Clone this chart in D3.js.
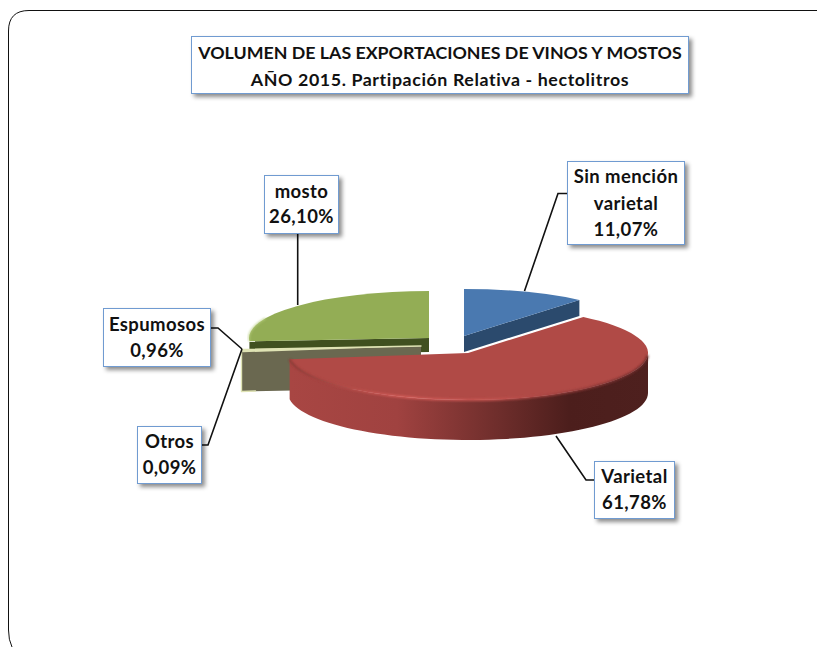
<!DOCTYPE html>
<html><head><meta charset="utf-8">
<script src="https://cdn.jsdelivr.net/npm/d3@7/dist/d3.min.js"></script>
<style>html,body{margin:0;padding:0;background:#fff;overflow:hidden}svg{display:block}</style>
</head><body><svg id="c" width="817" height="647"></svg>
<script>
const titleLines = ["VOLUMEN DE LAS EXPORTACIONES DE VINOS Y MOSTOS", "AÑO 2015. Partipación Relativa - hectolitros"];
const categories = ["Sin mención varietal", "Varietal", "Espumosos", "Otros", "mosto"];
const shares = [11.07, 61.78, 0.96, 0.09, 26.10];
const labelLines = [["Sin mención", "varietal", "11,07%"], ["Varietal", "61,78%"], ["Espumosos", "0,96%"], ["Otros", "0,09%"], ["mosto", "26,10%"]];
const topColors = ["#4a79b0", "#b04a46", "#dfe3b4", "#dfe3b4", "#93ad55"];
const sideColors = ["#2b4a6d", "#6e2e2b", "#6a6850", "#6a6850", "#40501f"];
const centerX = [464, 468, 421, 421, 429];
const centerY = [336, 353, 346, 346, 338];
const depths = [16, 40, 42, 42, 14];
const labelBoxes = [[567,161,117,83],[594,461,80,57],[103,308,107,58],[137,426,64,57],[264,175,74,58]];
const labelOffsets = [22,22,23,22,23];
const labelLeading = [26.5,26,26,26,25];
const leaders = [
  [[567,193.5],[558,193.5],[524.5,291]],
  [[594,480],[586,480],[556,436]],
  [[210,328],[218,328],[242,349]],
  [[201,445],[208,445],[242,349]],
  [[297.7,233],[297.7,305]]
];
const rx = 180, ry = 47;

const svg = d3.select("#c");
const defs = svg.append("defs");
const f = defs.append("filter").attr("id","sh").attr("x","-20%").attr("y","-20%").attr("width","150%").attr("height","150%");
f.append("feDropShadow").attr("dx",3).attr("dy",3).attr("stdDeviation",2).attr("flood-color","#000").attr("flood-opacity",0.45);
defs.append("filter").attr("id","bl").append("feGaussianBlur").attr("stdDeviation",0.9);
const grad = defs.append("linearGradient").attr("id","redSide").attr("gradientUnits","userSpaceOnUse")
  .attr("x1",290).attr("x2",648).attr("y1",0).attr("y2",0);
[[0,"#a84643"],[0.3,"#a04240"],[0.55,"#74302e"],[0.78,"#4c1e1c"],[1,"#4e201e"]].forEach(s=>grad.append("stop").attr("offset",s[0]).attr("stop-color",s[1]));
const gradB = defs.append("linearGradient").attr("id","redLip").attr("gradientUnits","userSpaceOnUse")
  .attr("x1",290).attr("x2",648).attr("y1",0).attr("y2",0);
[[0,"#8d3835"],[0.3,"#d85e5a"],[0.6,"#c2514e"],[0.9,"#7a3130"],[1,"#6a2a28"]].forEach(s=>gradB.append("stop").attr("offset",s[0]).attr("stop-color",s[1]));

// frame
svg.append("path").attr("fill","none").attr("stroke","#111").attr("stroke-width",1)
  .attr("d","M12,647 Q8.5,640 8.5,630 L8.5,31 Q8.5,10.5 29,10.5 L817,10.5");

const slices = d3.pie().value(d=>d).sort(null)(shares);
const rimPt = (i,a)=>[centerX[i]+rx*Math.sin(a), centerY[i]-ry*Math.cos(a)];
const line = d3.line();
const angleSteps = (a0,a1)=>d3.range(0,61).map(k=>a0+(a1-a0)*k/60);

function wall(i){
  const s = slices[i], a0=Math.max(s.startAngle,Math.PI/2), a1=Math.min(s.endAngle,1.5*Math.PI);
  const top=angleSteps(a0,a1).map(a=>rimPt(i,a));
  const bot=top.map(p=>[p[0],p[1]+depths[i]]).reverse();
  return line(top.concat(bot))+"Z";
}
function cutFace(i,a){
  const c=[centerX[i],centerY[i]], r=rimPt(i,a), d=depths[i];
  return line([c,r,[r[0],r[1]+d],[c[0],c[1]+d]])+"Z";
}
const arc = d3.arc().innerRadius(0).outerRadius(rx);
function drawTop(g,i){
  g.append("path").attr("transform",`translate(${centerX[i]},${centerY[i]}) scale(1,${ry/rx})`)
   .attr("d",arc(slices[i])).attr("fill",topColors[i]);
}

// draw order: back to front
const order = [4,3,2,0,1];
order.forEach(i=>{
  const g=svg.append("g").attr("class","slice").attr("data-name",categories[i]).attr("data-value",shares[i]);
  const s=slices[i];
  if(i===4){
    g.append("path").attr("d",cutFace(i,s.startAngle)).attr("fill",sideColors[i]);
    g.append("path").attr("d",cutFace(i,s.endAngle)).attr("fill",sideColors[i]);
    drawTop(g,i);
    const h=angleSteps(s.startAngle,s.startAngle+0.5).map(a=>rimPt(i,a));
    g.append("path").attr("d",line(h)).attr("fill","none").attr("stroke","#b9cf80").attr("stroke-width",1.4).attr("filter","url(#bl)");
  } else if(i===2||i===3){
    if(i===2){
      g.append("path").attr("d",cutFace(i,s.endAngle)).attr("fill",sideColors[i]);
      const c=[centerX[i],centerY[i]], r=rimPt(i,s.endAngle), d=depths[i];
      g.append("path").attr("d",line([c,r,[r[0],r[1]+d],[r[0]+14,r[1]+d-0.5]]))
       .attr("fill","none").attr("stroke","#dfe3b4").attr("stroke-width",1.4).attr("stroke-linejoin","round").attr("stroke-linecap","round");
    }
    drawTop(g,i);
  } else if(i===0){
    g.append("path").attr("d",cutFace(i,s.endAngle)).attr("fill",sideColors[i]);
    g.append("path").attr("d",cutFace(i,s.startAngle)).attr("fill",sideColors[i]);
    drawTop(g,i);
  } else {
    g.append("path").attr("d",wall(i)).attr("fill","url(#redSide)");
    drawTop(g,i);
    const lip=angleSteps(Math.PI/2+0.05,s.endAngle).map(a=>rimPt(i,a));
    g.append("path").attr("d",line(lip)).attr("fill","none").attr("stroke","url(#redLip)").attr("stroke-width",2.2).attr("filter","url(#bl)");
  }
});

// leaders
leaders.forEach(p=>svg.append("path").attr("d",line(p)).attr("fill","none").attr("stroke","#111").attr("stroke-width",1.6));

function box(x,y,w,h,lines,fs,lh,offset,spacing){
  const g=svg.append("g");
  g.append("rect").attr("x",x+.5).attr("y",y+.5).attr("width",w).attr("height",h)
    .attr("fill","#fff").attr("stroke","#6f9bd1").attr("stroke-width",1).attr("filter","url(#sh)");
  lines.forEach((t,k)=>g.append("text").attr("x",x+w/2+.5).attr("y",y+offset+k*lh)
    .attr("text-anchor","middle").attr("font-family","Lato, 'Open Sans', sans-serif").attr("font-weight",700)
    .attr("font-size",fs).attr("letter-spacing",spacing[k]).attr("fill","#111").text(t));
}
box(191,36,497,57,titleLines,17.8,26.5,23,[0,0.6]);
labelBoxes.forEach((b,i)=>box(b[0],b[1],b[2],b[3],labelLines[i],18.5,labelLeading[i],labelOffsets[i],[0.4,0.4,0.4]));
</script></body></html>
